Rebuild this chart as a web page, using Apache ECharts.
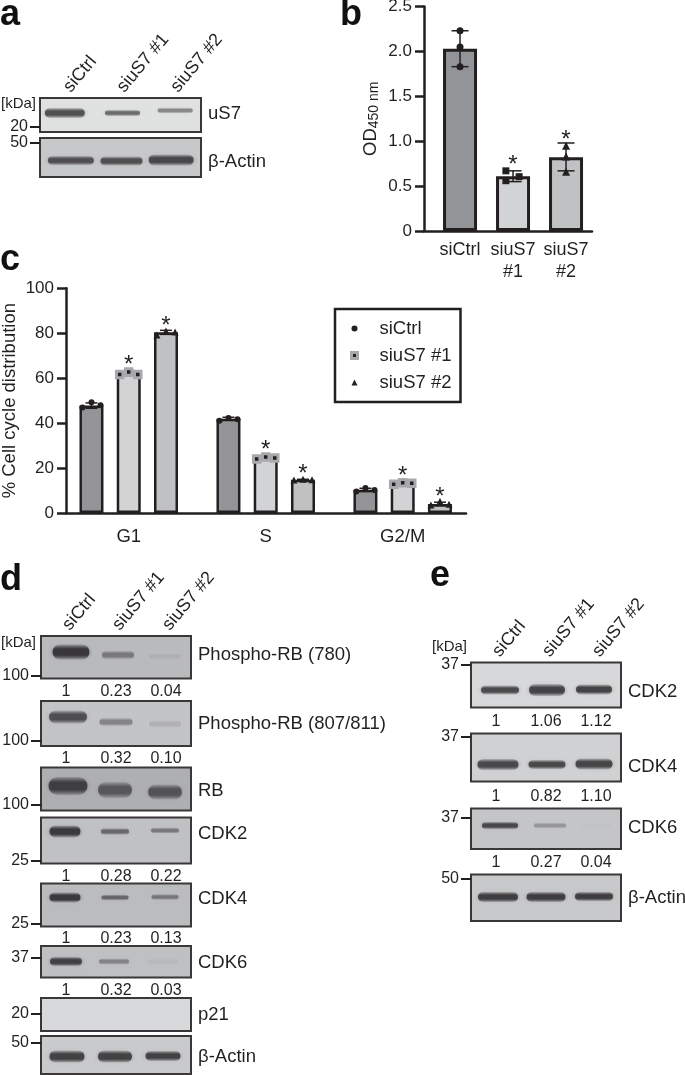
<!DOCTYPE html>
<html>
<head>
<meta charset="utf-8">
<style>
  html, body { margin: 0; padding: 0; background: #fff; }
  #main { width: 685px; height: 1075px; }
</style>
<script src="https://cdn.jsdelivr.net/npm/echarts@6/dist/echarts.min.js"></script>
</head>
<body>
<div id="main"></div>
<script>
// ---- data ----
const laneNames = ['siCtrl', 'siuS7 #1', 'siuS7 #2']

// panel b
const odTicks = ['siCtrl', 'siuS7\n#1', 'siuS7\n#2']
const odMeans = [2.03, 0.61, 0.82]
const odCtrl = [2.23, 2.05, 1.83]
const odSi1 = [0.67, 0.56, 0.605]
const odSi2 = [0.95, 0.83, 0.66]
const odErrLow = [1.83, 0.55, 0.67]
const odErrHigh = [2.23, 0.67, 0.98]
const odStars = [null, 0.79, 1.07]

// panel c, order G1, S, G2/M
const phases = ['G1', 'S', 'G2/M']
const ctrlMeans = [47.8, 42, 10.3]
const si1Means = [62, 25, 13.5]
const si2Means = [80.4, 14.8, 4]
const ctrlReps = [[46.9, 49.3, 47.9], [41, 42.3, 41.7], [9.6, 11.1, 10.2]]
const si1Reps = [[61.6, 62.8, 61.6], [24, 24.9, 24.5], [12.8, 13.5, 13.2]]
const si2Reps = [[79.2, 81, 80.6], [14.7, 15, 14.8], [3.6, 5.2, 3.9]]
const ctrlSd = [1.2, 0.6, 0.7]
const si1Sd = [0.7, 0.5, 0.4]
const si2Sd = [0.9, 0.2, 0.8]
const si1Stars = [67.8, 30, 18.7]
const si2Stars = [85.5, 19.4, 9.2]

// western blots: band density per lane, and the printed quantification
const aUs7 = [0.75, 0.6, 0.45]
const aActin = [0.72, 0.72, 0.78]
const dPrb780 = [0.9, 0.42, 0.07]
const dPrb807 = [0.72, 0.38, 0.12]
const dRb = [0.82, 0.62, 0.65]
const dCdk2 = [0.88, 0.55, 0.45]
const dCdk4 = [0.88, 0.55, 0.45]
const dCdk6 = [0.82, 0.38, 0.05]
const dP21 = [0, 0, 0]
const dActin = [0.82, 0.82, 0.82]
const eCdk2 = [0.78, 0.82, 0.82]
const eCdk4 = [0.78, 0.78, 0.8]
const eCdk6 = [0.78, 0.28, 0.02]
const eActin = [0.85, 0.85, 0.85]

const dPrb780Quant = ['1', '0.23', '0.04']
const dPrb807Quant = ['1', '0.32', '0.10']
const dCdk2Quant = ['1', '0.28', '0.22']
const dCdk4Quant = ['1', '0.23', '0.13']
const dCdk6Quant = ['1', '0.32', '0.03']
const eCdk2Quant = ['1', '1.06', '1.12']
const eCdk4Quant = ['1', '0.82', '1.10']
const eCdk6Quant = ['1', '0.27', '0.04']

// ---- layout of the blot panels, in page pixels ----
const panelA = { x: 40, w: 161 }
const panelD = { x: 41, w: 150 }
const panelE = { x: 471, w: 150 }
const blots = [
  { ...panelA, y: 98, h: 34, density: aUs7, name: 'uS7', nameY: 113, marker: '20', tickY: 126.3, bandY: [113, 113, 110.5], bandDx: [-2, 2, 1], bandW: [40, 35, 35], bandH: [7, 3, 2.5], bg: '#e0e1e1', top: true },
  { ...panelA, y: 138, h: 39, density: aActin, name: 'β-Actin', nameY: 161, marker: '50', tickY: 142.3, bandY: [160.5, 161, 160], bandDx: [4, 1, -3], bandW: [46, 42, 45], bandH: [6, 6, 8], bg: '#c7c8c9' },

  { ...panelD, y: 636, h: 42.5, density: dPrb780, quant: dPrb780Quant, quantY: 691, name: 'Phospho-RB (780)', nameY: 654, marker: '100', tickY: 675.3, bandY: [652, 655, 656.5], bandDx: [5, 2, -1], bandW: [37, 32, 32], bandH: [12, 5, 3], bg: '#b9babc', top: true },
  { ...panelD, y: 701, h: 45, density: dPrb807, quant: dPrb807Quant, quantY: 757.7, name: 'Phospho-RB (807/811)', nameY: 723, marker: '100', tickY: 741, bandY: [717, 722, 724], bandDx: [2, 0, -1], bandW: [38, 33, 32], bandH: [10, 5, 4], bg: '#c3c4c6' },
  { ...panelD, y: 767.5, h: 43, density: dRb, name: 'RB', nameY: 790, marker: '100', tickY: 805, bandY: [786, 790, 792], bandDx: [2, -1, -1], bandW: [39, 34, 34], bandH: [15, 13, 12], bg: '#aeafb1' },
  { ...panelD, y: 817.5, h: 46, density: dCdk2, quant: dCdk2Quant, quantY: 876, name: 'CDK2', nameY: 833, marker: '25', tickY: 860.7, bandY: [831.5, 831.5, 830.5], bandDx: [-1, -1, -1], bandW: [31, 28, 28], bandH: [9, 3.5, 2.5], bg: '#c0c1c3' },
  { ...panelD, y: 883.5, h: 43, density: dCdk4, quant: dCdk4Quant, quantY: 938, name: 'CDK4', nameY: 898, marker: '25', tickY: 924, bandY: [897.5, 897.5, 897], bandDx: [-1, -1, -1], bandW: [31, 27, 27], bandH: [7, 2.5, 2.5], bg: '#bbbcbe' },
  { ...panelD, y: 946, h: 31.5, density: dCdk6, quant: dCdk6Quant, quantY: 990, name: 'CDK6', nameY: 961.7, marker: '37', tickY: 957.3, bandY: [961.5, 961.5, 961.5], bandDx: [0, -2, -3], bandW: [32, 30, 31], bandH: [6, 3, 2.5], bg: '#bfc0c2' },
  { ...panelD, y: 998, h: 33, density: dP21, name: 'p21', nameY: 1014, marker: '20', tickY: 1013.7, bandY: [1014, 1014, 1014], bandDx: [0, 0, 0], bandW: [30, 30, 30], bandH: [3, 3, 3], bg: '#d8d9da' },
  { ...panelD, y: 1036, h: 38, density: dActin, name: 'β-Actin', nameY: 1055.7, marker: '50', tickY: 1042.7, bandY: [1056.5, 1056.5, 1056], bandDx: [1, -1, -3], bandW: [35, 34, 35], bandH: [9, 9, 7], bg: '#c9cacb' },

  { ...panelE, y: 662.5, h: 45, density: eCdk2, quant: eCdk2Quant, quantY: 721, name: 'CDK2', nameY: 691, marker: '37', tickY: 664.7, bandY: [690, 690, 689.5], bandDx: [4, 1, -2], bandW: [38, 36, 36], bandH: [6, 9, 7], bg: '#d7d8d9', top: true },
  { ...panelE, y: 733.5, h: 48, density: eCdk4, quant: eCdk4Quant, quantY: 795.7, name: 'CDK4', nameY: 765.7, marker: '37', tickY: 736.7, bandY: [764.5, 764.5, 764], bandDx: [2, 1, -2], bandW: [41, 37, 37], bandH: [8, 6, 8], bg: '#d0d1d2' },
  { ...panelE, y: 808.5, h: 40.5, density: eCdk6, quant: eCdk6Quant, quantY: 861.7, name: 'CDK6', nameY: 826.7, marker: '37', tickY: 817.3, bandY: [825.5, 825.5, 825.5], bandDx: [4, 4, 0], bandW: [36, 32, 30], bandH: [4, 2.5, 2], bg: '#c4c5c6' },
  { ...panelE, y: 874.5, h: 46.5, density: eActin, name: 'β-Actin', nameY: 897, marker: '50', tickY: 878.3, bandY: [897, 897, 896.5], bandDx: [2, 0, -2], bandW: [40, 39, 38], bandH: [7, 7, 6], bg: '#c8c9ca' }
]

const ink = '#231f20'
const font = '"Liberation Sans", Arial, sans-serif'
const barCtrl = '#929497'
const barSi1 = '#d1d3d4'
const barSi2 = '#bfc1c3'

const grid = []
const xAxis = []
const yAxis = []
const series = []
const graphic = []

// ---- shared render functions ----
function errorBars(capHalf) {
  return function (params, api) {
    const x = api.value(0)
    const low = api.coord([x, api.value(1)])
    const high = api.coord([x, api.value(2)])
    const style = { stroke: ink, lineWidth: 1.5, fill: 'none' }
    return {
      type: 'group',
      children: [
        { type: 'line', shape: { x1: low[0], y1: low[1], x2: high[0], y2: high[1] }, style },
        { type: 'line', shape: { x1: low[0] - capHalf, y1: low[1], x2: low[0] + capHalf, y2: low[1] }, style },
        { type: 'line', shape: { x1: high[0] - capHalf, y1: high[1], x2: high[0] + capHalf, y2: high[1] }, style }
      ]
    }
  }
}

function stars(params, api) {
  const p = api.coord([api.value(0), api.value(1)])
  return {
    type: 'text',
    x: p[0],
    y: p[1] + 5,
    style: { text: '*', fontSize: 24, fontFamily: font, fill: ink, align: 'center', verticalAlign: 'middle' }
  }
}

// a band fades out at the top and bottom, the blur softens its ends
function renderBand(params, api) {
  const density = api.value(2)
  if (!density) return null
  const blot = blots[api.value(3)]
  const i = api.value(0)
  const p = api.coord([i, api.value(1)])
  const w = blot.bandW[i]
  const h = blot.bandH[i] + 3
  const shade = (a) => 'rgba(48,46,48,' + density * a + ')'
  return {
    type: 'rect',
    shape: { x: p[0] + blot.bandDx[i] - w / 2, y: p[1] - h / 2, width: w, height: h, r: h / 2 },
    style: {
      fill: new echarts.graphic.LinearGradient(0, 0, 0, 1, [
        { offset: 0, color: shade(0.2) },
        { offset: 0.3, color: shade(1) },
        { offset: 0.7, color: shade(1) },
        { offset: 1, color: shade(0.2) }
      ]),
      shadowColor: shade(0.5),
      shadowBlur: 4
    }
  }
}

// ---- panel b ----
// outerBoundsMode none: v6 would otherwise shrink the grid to keep the axis name in the canvas
grid.push({ left: 424, top: 6.5, width: 168, height: 224.5, outerBoundsMode: 'none' })
xAxis.push({
  type: 'value', gridIndex: 0, min: -0.68, max: 2.49,
  splitLine: { show: false },
  axisLine: { onZero: false, lineStyle: { color: ink, width: 2.5 } },
  axisTick: { show: false },
  axisLabel: {
    customValues: [0, 1, 2],
    formatter: (v) => odTicks[Math.round(v)],
    color: ink, fontSize: 18, fontFamily: font, lineHeight: 22, margin: 8
  }
})
yAxis.push({
  type: 'value', gridIndex: 0, min: 0, max: 2.5, interval: 0.5,
  name: '{m|OD}{s|450 nm}', nameLocation: 'middle', nameGap: 43, nameRotate: 90, nameMoveOverlap: false,
  nameTextStyle: {
    rich: {
      m: { fontSize: 18.5, fontFamily: font, color: ink },
      s: { fontSize: 14, fontFamily: font, color: ink, verticalAlign: 'bottom', padding: [6, 0, 0, 0] }
    }
  },
  splitLine: { show: false },
  axisLine: { show: true, onZero: false, lineStyle: { color: ink, width: 2.5 } },
  axisTick: { show: true, length: 9, lineStyle: { color: ink, width: 2.5 } },
  axisLabel: {
    color: ink, fontSize: 17, fontFamily: font, margin: 12, padding: [4, 0, 0, 0],
    formatter: (v) => (v === 0 ? '0' : v.toFixed(1))
  }
})
series.push({
  name: 'OD mean', type: 'bar', xAxisIndex: 0, yAxisIndex: 0, barWidth: 34,
  data: odMeans.map((v, i) => ({
    value: [i, v],
    itemStyle: { color: [barCtrl, barSi1, barSi2][i], borderColor: ink, borderWidth: 3 }
  }))
})
series.push({
  name: 'OD error', type: 'custom', xAxisIndex: 0, yAxisIndex: 0, z: 3,
  renderItem: errorBars(8.5),
  data: odMeans.map((v, i) => [i, odErrLow[i], odErrHigh[i]])
})
const odSi1Dx = [-0.135, -0.135, 0.115]
series.push(
  { name: 'OD siCtrl', type: 'scatter', xAxisIndex: 0, yAxisIndex: 0, z: 4, symbol: 'circle', symbolSize: 7, itemStyle: { color: ink, opacity: 1 }, data: odCtrl.map((v) => [0, v]) },
  { name: 'OD siuS7 #1', type: 'scatter', xAxisIndex: 0, yAxisIndex: 0, z: 4, symbol: 'rect', symbolSize: 7, itemStyle: { color: ink, opacity: 1 }, data: odSi1.map((v, i) => [1 + odSi1Dx[i], v]) },
  { name: 'OD siuS7 #2', type: 'scatter', xAxisIndex: 0, yAxisIndex: 0, z: 4, symbol: 'triangle', symbolSize: 8, itemStyle: { color: ink, opacity: 1 }, data: odSi2.map((v) => [2, v]) },
  {
    name: 'OD significance', type: 'custom', xAxisIndex: 0, yAxisIndex: 0, z: 5, renderItem: stars,
    data: odStars.map((v, i) => [i, v]).filter((d) => d[1] !== null)
  }
)

// ---- panel c ----
grid.push({ left: 66, top: 288.3, width: 400, height: 224.7, outerBoundsMode: 'none' })
xAxis.push({
  type: 'value', gridIndex: 1, min: -0.458, max: 2.462,
  splitLine: { show: false },
  axisLine: { onZero: false, lineStyle: { color: ink, width: 2.5 } },
  axisTick: { show: false },
  axisLabel: {
    customValues: [0, 1, 2],
    formatter: (v) => phases[Math.round(v)],
    color: ink, fontSize: 18.5, fontFamily: font, margin: 14
  }
})
yAxis.push({
  type: 'value', gridIndex: 1, min: 0, max: 100, interval: 20,
  name: '% Cell cycle distribution', nameLocation: 'middle', nameGap: 47, nameRotate: 90, nameMoveOverlap: false,
  nameTextStyle: { color: ink, fontSize: 18.5, fontFamily: font },
  splitLine: { show: false },
  axisLine: { show: true, onZero: false, lineStyle: { color: ink, width: 2.5 } },
  axisTick: { show: true, length: 9, lineStyle: { color: ink, width: 2.5 } },
  axisLabel: { color: ink, fontSize: 17, fontFamily: font, margin: 12, padding: [4, 0, 0, 0] }
})
const sampleDx = [-0.272, 0, 0.272]
const repDx = [-0.066, 0, 0.066]
const samples = [
  { name: 'siCtrl', means: ctrlMeans, reps: ctrlReps, sd: ctrlSd, color: barCtrl, symbol: 'circle', size: 6, stars: null, item: { color: ink, opacity: 1 } },
  { name: 'siuS7 #1', means: si1Means, reps: si1Reps, sd: si1Sd, color: barSi1, symbol: 'rect', size: 6.5, stars: si1Stars, item: { color: ink, borderColor: '#a7a9ac', borderWidth: 3, opacity: 1 } },
  { name: 'siuS7 #2', means: si2Means, reps: si2Reps, sd: si2Sd, color: barSi2, symbol: 'triangle', size: 7, stars: si2Stars, item: { color: ink, opacity: 1 } }
]
samples.forEach((s, k) => {
  series.push({
    name: s.name + ' bar', type: 'bar', xAxisIndex: 1, yAxisIndex: 1, barWidth: 24, barGap: '-100%',
    itemStyle: { color: s.color, borderColor: ink, borderWidth: 2.5 },
    data: s.means.map((v, g) => [g + sampleDx[k], v])
  })
  series.push({
    name: s.name + ' error', type: 'custom', xAxisIndex: 1, yAxisIndex: 1, z: 3,
    renderItem: errorBars(6),
    data: s.means.map((v, g) => [g + sampleDx[k], v - s.sd[g], v + s.sd[g]])
  })
  const pts = []
  s.reps.forEach((reps, g) => reps.forEach((v, r) => pts.push([g + sampleDx[k] + repDx[r], v])))
  series.push({
    name: s.name, type: 'scatter', xAxisIndex: 1, yAxisIndex: 1, z: 4,
    symbol: s.symbol, symbolSize: s.size, itemStyle: s.item, data: pts
  })
  if (s.stars) {
    series.push({
      name: s.name + ' significance', type: 'custom', xAxisIndex: 1, yAxisIndex: 1, z: 5, renderItem: stars,
      data: s.stars.map((v, g) => [g + sampleDx[k], v])
    })
  }
})

// ---- blot panels ----
blots.forEach((b, n) => {
  const gi = grid.length
  grid.push({
    left: b.x, top: b.y, width: b.w, height: b.h, show: true, outerBoundsMode: 'none',
    backgroundColor: b.bg, borderColor: '#3a3738', borderWidth: 2
  })
  const xi = xAxis.length
  xAxis.push({
    type: 'category', gridIndex: gi, position: 'bottom',
    data: b.quant || laneNames,
    axisLine: { show: false }, axisTick: { show: false }, splitLine: { show: false },
    axisLabel: {
      show: !!b.quant, interval: 0, color: ink, fontSize: 16, fontFamily: font,
      margin: b.quant ? b.quantY - b.y - b.h - 7 : 0
    }
  })
  if (b.top) {
    xAxis.push({
      type: 'category', gridIndex: gi, position: 'top', data: laneNames,
      axisLine: { show: false }, axisTick: { show: false }, splitLine: { show: false },
      axisLabel: { interval: 0, rotate: -50, color: ink, fontSize: 18, fontFamily: font, margin: 8 }
    })
  }
  const yi = yAxis.length
  yAxis.push({
    type: 'value', gridIndex: gi, inverse: true, min: b.y, max: b.y + b.h,
    splitLine: { show: false }, axisLine: { show: false },
    axisTick: { show: true, customValues: [b.tickY], length: 10, lineStyle: { color: ink, width: 2 } },
    axisLabel: {
      customValues: [b.tickY], formatter: () => b.marker,
      color: ink, fontSize: 16, fontFamily: font, margin: 12, padding: [2, 0, 0, 0]
    }
  })
  series.push({
    name: b.name + ' blot ' + n, type: 'custom', xAxisIndex: xi, yAxisIndex: yi, z: 3,
    renderItem: renderBand,
    data: b.density.map((v, i) => [i, b.bandY[i], v, n])
  })
  graphic.push({
    type: 'text', x: b.x + b.w + 7, y: b.nameY + 1,
    style: { text: b.name, fontSize: 18.5, fontFamily: font, fill: ink, verticalAlign: 'middle' }
  })
})

// ---- loose text: panel letters and the kDa captions ----
const letters = [['a', 0, 33], ['b', 340, 33], ['c', 0, 278], ['d', 0, 598], ['e', 430, 594]]
letters.forEach((l) => graphic.push({
  type: 'text', x: l[1], y: l[2],
  style: { text: l[0], fontSize: 36, fontWeight: 'bold', fontFamily: font, fill: '#111', verticalAlign: 'bottom' }
}))
const kda = [[36, 104], [36, 642.7], [467, 647]]
kda.forEach((k) => graphic.push({
  type: 'text', x: k[0], y: k[1],
  style: { text: '[kDa]', fontSize: 15, fontFamily: font, fill: ink, align: 'right', verticalAlign: 'middle' }
}))

const myChart = echarts.init(document.getElementById('main'))
myChart.setOption({
  animation: false,
  backgroundColor: '#fff',
  textStyle: { fontFamily: font },
  grid, xAxis, yAxis, series, graphic,
  legend: {
    left: 335, top: 309, orient: 'vertical', selectedMode: false,
    padding: [10, 9, 10, 15], itemWidth: 6, itemHeight: 6, itemGap: 8,
    borderColor: ink, borderWidth: 2.5,
    textStyle: { color: ink, fontSize: 18.5, fontFamily: font, padding: [0, 0, 0, 17], lineHeight: 19 },
    data: samples.map((s) => ({ name: s.name, icon: s.symbol, itemStyle: s.item }))
  }
})
</script>
</body>
</html>
